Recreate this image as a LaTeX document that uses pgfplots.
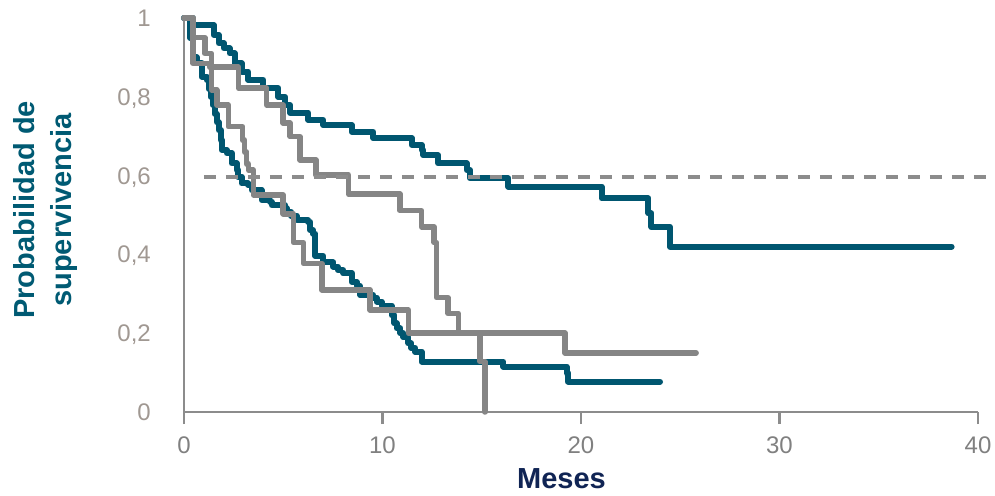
\documentclass[border=0pt]{standalone}
\usepackage{pgfplots}
\pgfplotsset{compat=1.18}
\usepackage{fontspec}
\setmainfont{Liberation Sans}
\definecolor{tealc}{RGB}{0,86,112}
\definecolor{grayc}{RGB}{133,133,133}
\definecolor{axisgray}{RGB}{140,140,140}
\definecolor{ytickc}{RGB}{160,152,146}
\definecolor{xtickc}{RGB}{128,128,128}
\definecolor{navyc}{RGB}{16,36,84}
\definecolor{ylabc}{RGB}{0,90,115}
\begin{document}
\begin{tikzpicture}
\useasboundingbox (-184pt,-83pt) rectangle (811pt,412pt);
\begin{axis}[
  at={(0,0)}, anchor=south west,
  scale only axis, width=794pt, height=394pt,
  xmin=0, xmax=40, ymin=0, ymax=1,
  clip=false,
  axis lines=left,
  axis line style={-, draw=axisgray, line width=2.5pt},
  xtick={0,10,20,30,40},
  ytick={0,0.2,0.4,0.6,0.8,1},
  yticklabels={0,{0,2},{0,4},{0,6},{0,8},1},
  tick align=outside,
  major tick length=12pt,
  xtick style={draw=axisgray, line width=2.5pt},
  ytick style={draw=none},
  /pgf/number format/assume math mode=true,
  xticklabel style={font=\fontsize{24}{24}\selectfont, text=xtickc, inner sep=0pt, anchor=north, yshift=-13pt},
  yticklabel style={font=\fontsize{24}{24}\selectfont, text=ytickc, inner sep=0pt, anchor=east, text height=17pt, text depth=0pt, xshift=-21pt},
  ylabel={Probabilidad de\\supervivencia},
  ylabel style={font=\bfseries\fontsize{29}{37}\selectfont, text=ylabc, align=center, at={(axis description cs:-0.1745,0.513)}, anchor=center},
  xlabel={Meses},
  xlabel style={font=\bfseries\fontsize{29}{35}\selectfont, text=navyc, at={(axis description cs:0.4754,-0.1929)}, anchor=base},
]
% upper teal
\addplot[const plot, tealc, line width=6pt, line join=round, line cap=round] coordinates {
(0,1) (0.45,0.982) (1.5,0.957) (1.75,0.936) (2.0,0.923) (2.3,0.91) (2.55,0.885) (2.9,0.864)
(3.24,0.843) (4.0,0.822) (4.75,0.80) (5.09,0.779) (5.34,0.76) (6.26,0.741) (7.02,0.728)
(8.45,0.711) (9.54,0.695) (11.47,0.678) (11.97,0.665) (12.05,0.652) (12.8,0.631)
(14.24,0.614) (14.41,0.593) (16.34,0.572) (21.04,0.542) (23.4,0.504) (23.55,0.47)
(24.48,0.42) (38.67,0.42)};
% lower teal
\addplot[const plot, tealc, line width=6pt, line join=round, line cap=round] coordinates {
(0,1) (0.3,0.95) (0.45,0.9) (0.64,0.885) (0.89,0.851) (1.14,0.843) (1.25,0.82) (1.35,0.80)
(1.45,0.78) (1.55,0.757) (1.65,0.735) (1.75,0.715) (1.85,0.69) (1.9,0.665) (2.15,0.657)
(2.4,0.631) (2.65,0.614) (2.74,0.597) (2.9,0.58) (3.24,0.576) (3.41,0.563) (3.91,0.538)
(4.33,0.534) (4.42,0.525) (5.09,0.517) (5.17,0.508) (5.4,0.498) (5.68,0.487) (6.26,0.483)
(6.35,0.462) (6.5,0.453) (6.62,0.396) (7.02,0.38) (7.52,0.369) (7.75,0.36) (8.03,0.352)
(8.45,0.33) (8.7,0.32) (8.87,0.297) (9.54,0.29) (9.71,0.28) (9.96,0.27) (10.46,0.245)
(10.6,0.225) (10.71,0.212) (10.9,0.2) (11.05,0.19) (11.3,0.174) (11.45,0.163) (11.64,0.153)
(11.97,0.128) (16.09,0.115) (19.27,0.098) (19.36,0.077) (23.98,0.077)};
% upper gray
\addplot[const plot, grayc, line width=5.5pt, line join=round, line cap=round] coordinates {
(0,1) (0.45,0.885) (1.3,0.875) (2.74,0.822) (4.16,0.779) (5.0,0.733) (5.34,0.699)
(5.84,0.64) (6.64,0.602) (8.28,0.553) (10.88,0.511) (11.97,0.47) (12.6,0.43) (12.72,0.29)
(13.3,0.25) (13.82,0.2) (19.2,0.15) (25.8,0.15)};
% lower gray
\addplot[const plot, grayc, line width=5.5pt, line join=round, line cap=round] coordinates {
(0,1) (0.45,0.95) (1.05,0.91) (1.39,0.817) (1.65,0.779) (2.23,0.724) (2.95,0.69) (3.05,0.66)
(3.15,0.63) (3.24,0.614) (3.49,0.551) (5.0,0.503) (5.51,0.43) (6.01,0.377) (6.94,0.31)
(9.37,0.259) (11.3,0.2) (14.91,0.128) (15.16,0) (15.16,0)};
% reference line
\addplot[axisgray, line width=4pt, dash pattern=on 12pt off 10pt] coordinates {(1.0,0.596) (40.85,0.596)};
\end{axis}
\end{tikzpicture}
\end{document}
